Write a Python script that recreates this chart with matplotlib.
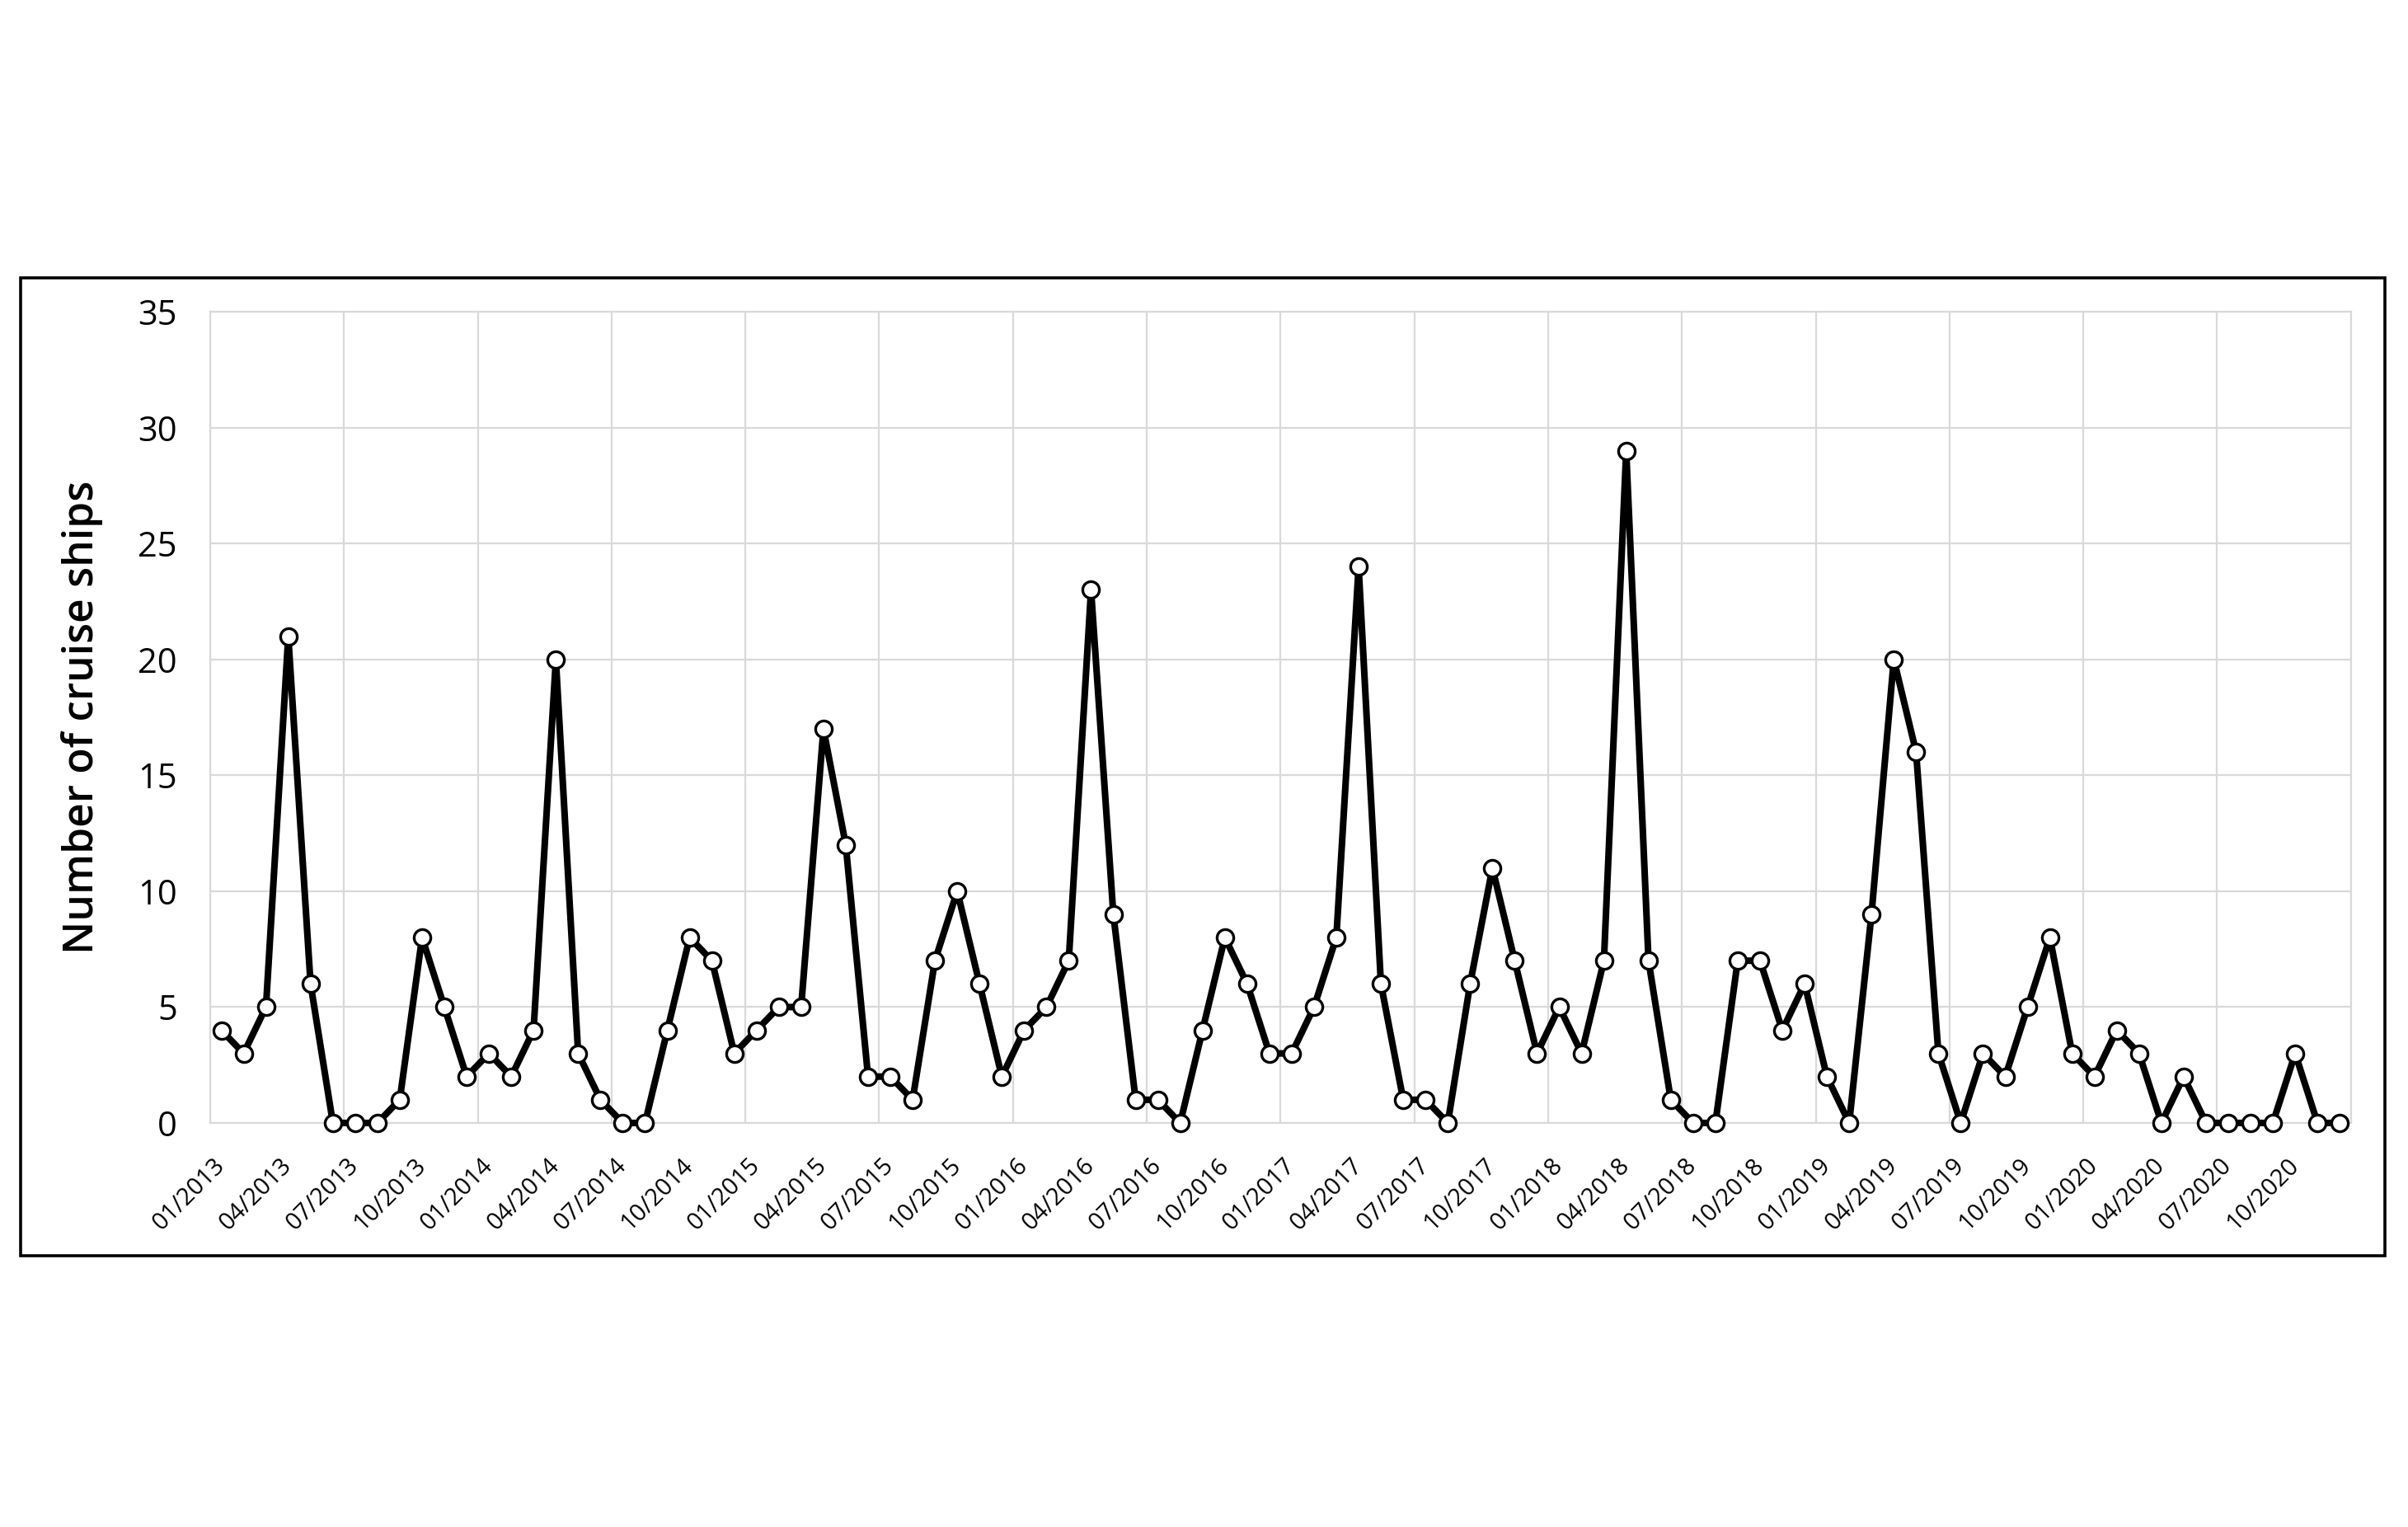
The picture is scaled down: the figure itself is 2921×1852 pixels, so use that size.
import matplotlib
matplotlib.use('Agg')
import matplotlib.pyplot as plt
from matplotlib.patches import Rectangle
import numpy as np

plt.rcParams['font.family'] = ['Open Sans', 'DejaVu Sans']

# 月別のクルーズ船寄港数 (2013/01 - 2020/12)
years = [2013, 2014, 2015, 2016, 2017, 2018, 2019, 2020]
ships_2013 = [4, 3, 5, 21, 6, 0, 0, 0, 1, 8, 5, 2]
ships_2014 = [3, 2, 4, 20, 3, 1, 0, 0, 4, 8, 7, 3]
ships_2015 = [4, 5, 5, 17, 12, 2, 2, 1, 7, 10, 6, 2]
ships_2016 = [4, 5, 7, 23, 9, 1, 1, 0, 4, 8, 6, 3]
ships_2017 = [3, 5, 8, 24, 6, 1, 1, 0, 6, 11, 7, 3]
ships_2018 = [5, 3, 7, 29, 7, 1, 0, 0, 7, 7, 4, 6]
ships_2019 = [2, 0, 9, 20, 16, 3, 0, 3, 2, 5, 8, 3]
ships_2020 = [2, 4, 3, 0, 2, 0, 0, 0, 0, 3, 0, 0]
label_months = ['01', '04', '07', '10']

values = (ships_2013 + ships_2014 + ships_2015 + ships_2016
          + ships_2017 + ships_2018 + ships_2019 + ships_2020)
x = np.arange(len(values))
tick_pos = x[::3]
tick_labels = [f"{m}/{y}" for y in years for m in label_months]

fig = plt.figure(figsize=(29.21, 18.52), dpi=100)
ax = fig.add_axes([0.0873, 0.2646, 0.889, 0.5313])

ax.plot(x, values, color='black', linewidth=5.8, marker='o', markersize=14.5,
        markerfacecolor='white', markeredgecolor='black', markeredgewidth=2.4,
        clip_on=False, zorder=3)

ax.set_xlim(-0.5, len(values) - 0.5)
ax.set_ylim(0, 35)
ax.set_yticks(range(0, 36, 5))
ax.set_xticks(tick_pos)
ax.set_xticklabels(tick_labels, rotation=45, ha='right', va='center',
                   rotation_mode='anchor', fontsize=21)
ax.set_xticks(np.arange(-0.5, len(values), 6), minor=True)

grid_c = '#d9d9d9'
ax.grid(axis='y', which='major', color=grid_c, linewidth=1.6)
ax.grid(axis='x', which='minor', color=grid_c, linewidth=1.6)
ax.set_axisbelow(True)
for s in ax.spines.values():
    s.set_color(grid_c)
    s.set_linewidth(1.6)
ax.tick_params(axis='both', which='both', length=0)
ax.tick_params(axis='y', labelsize=30, pad=29)
ax.tick_params(axis='x', pad=34)
for t in ax.get_yticklabels():
    t.set_fontweight('medium')

ax.set_ylabel("Number of cruise ships", fontsize=37, fontweight='semibold', labelpad=30)

# 外枠
fig.patches.append(Rectangle((0.0086, 0.1777), 0.9818, 0.6403, transform=fig.transFigure,
                             fill=False, edgecolor='black', linewidth=2.6))

plt.savefig("out.png", dpi=100)
plt.close()
